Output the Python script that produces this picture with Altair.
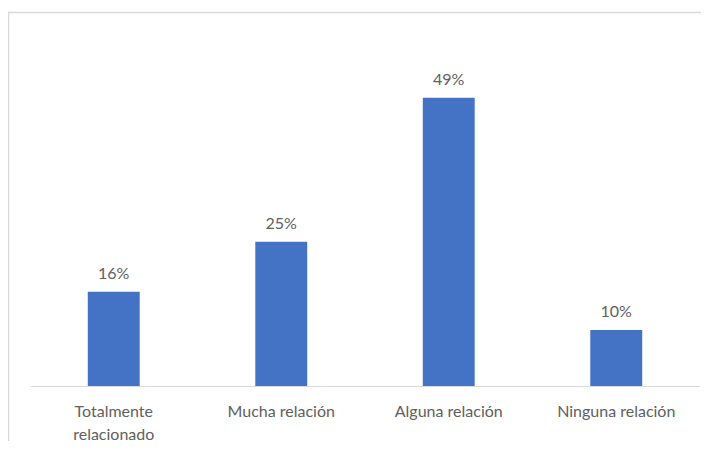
import altair as alt
import pandas as pd

categories = ["Totalmente relacionado", "Mucha relación", "Alguna relación", "Ninguna relación"]
values = [0.160, 0.245, 0.490, 0.095]
labels = ["16%", "25%", "49%", "10%"]

df = pd.DataFrame({"cat": categories, "val": values, "lbl": labels})

FONT = "Lato"
GRAY = "#606060"

x = alt.X("cat:N", sort=categories,
          scale=alt.Scale(paddingInner=0.69, paddingOuter=0.345),
          axis=alt.Axis(title=None, labelAngle=0, ticks=False, domainColor="#d9d9d9",
                        labelFont=FONT, labelFontSize=16, labelColor=GRAY,
                        labelPadding=17, labelLineHeight=23, labelLimit=200,
                        labelExpr="datum.value == 'Totalmente relacionado' ? ['Totalmente', 'relacionado'] : datum.value"))
y = alt.Y("val:Q", scale=alt.Scale(domain=[0, 0.6]), axis=None)

base = alt.Chart(df)
bars = base.mark_bar(color="#4472C4").encode(x=x, y=y)
text = base.mark_text(font=FONT, fontSize=16, color=GRAY, baseline="alphabetic", dy=-13).encode(
    x=x, y=y, text="lbl:N")

border = alt.Chart(alt.Data(values=[{"a": 1}])).mark_rect(
    fillOpacity=0, stroke="#d9d9d9", strokeWidth=1.5).encode(
    x=alt.value(-21.5), x2=alt.value(800), y=alt.value(-20.5), y2=alt.value(700))

chart = alt.layer(border, bars, text).properties(
    width=670, height=353,
    autosize=alt.AutoSizeParams(type="none"),
    padding={"left": 22, "top": 25, "right": 1, "bottom": 55},
).configure_view(stroke=None)

chart.save("out.html", embed_options={"renderer": "svg", "actions": False})
